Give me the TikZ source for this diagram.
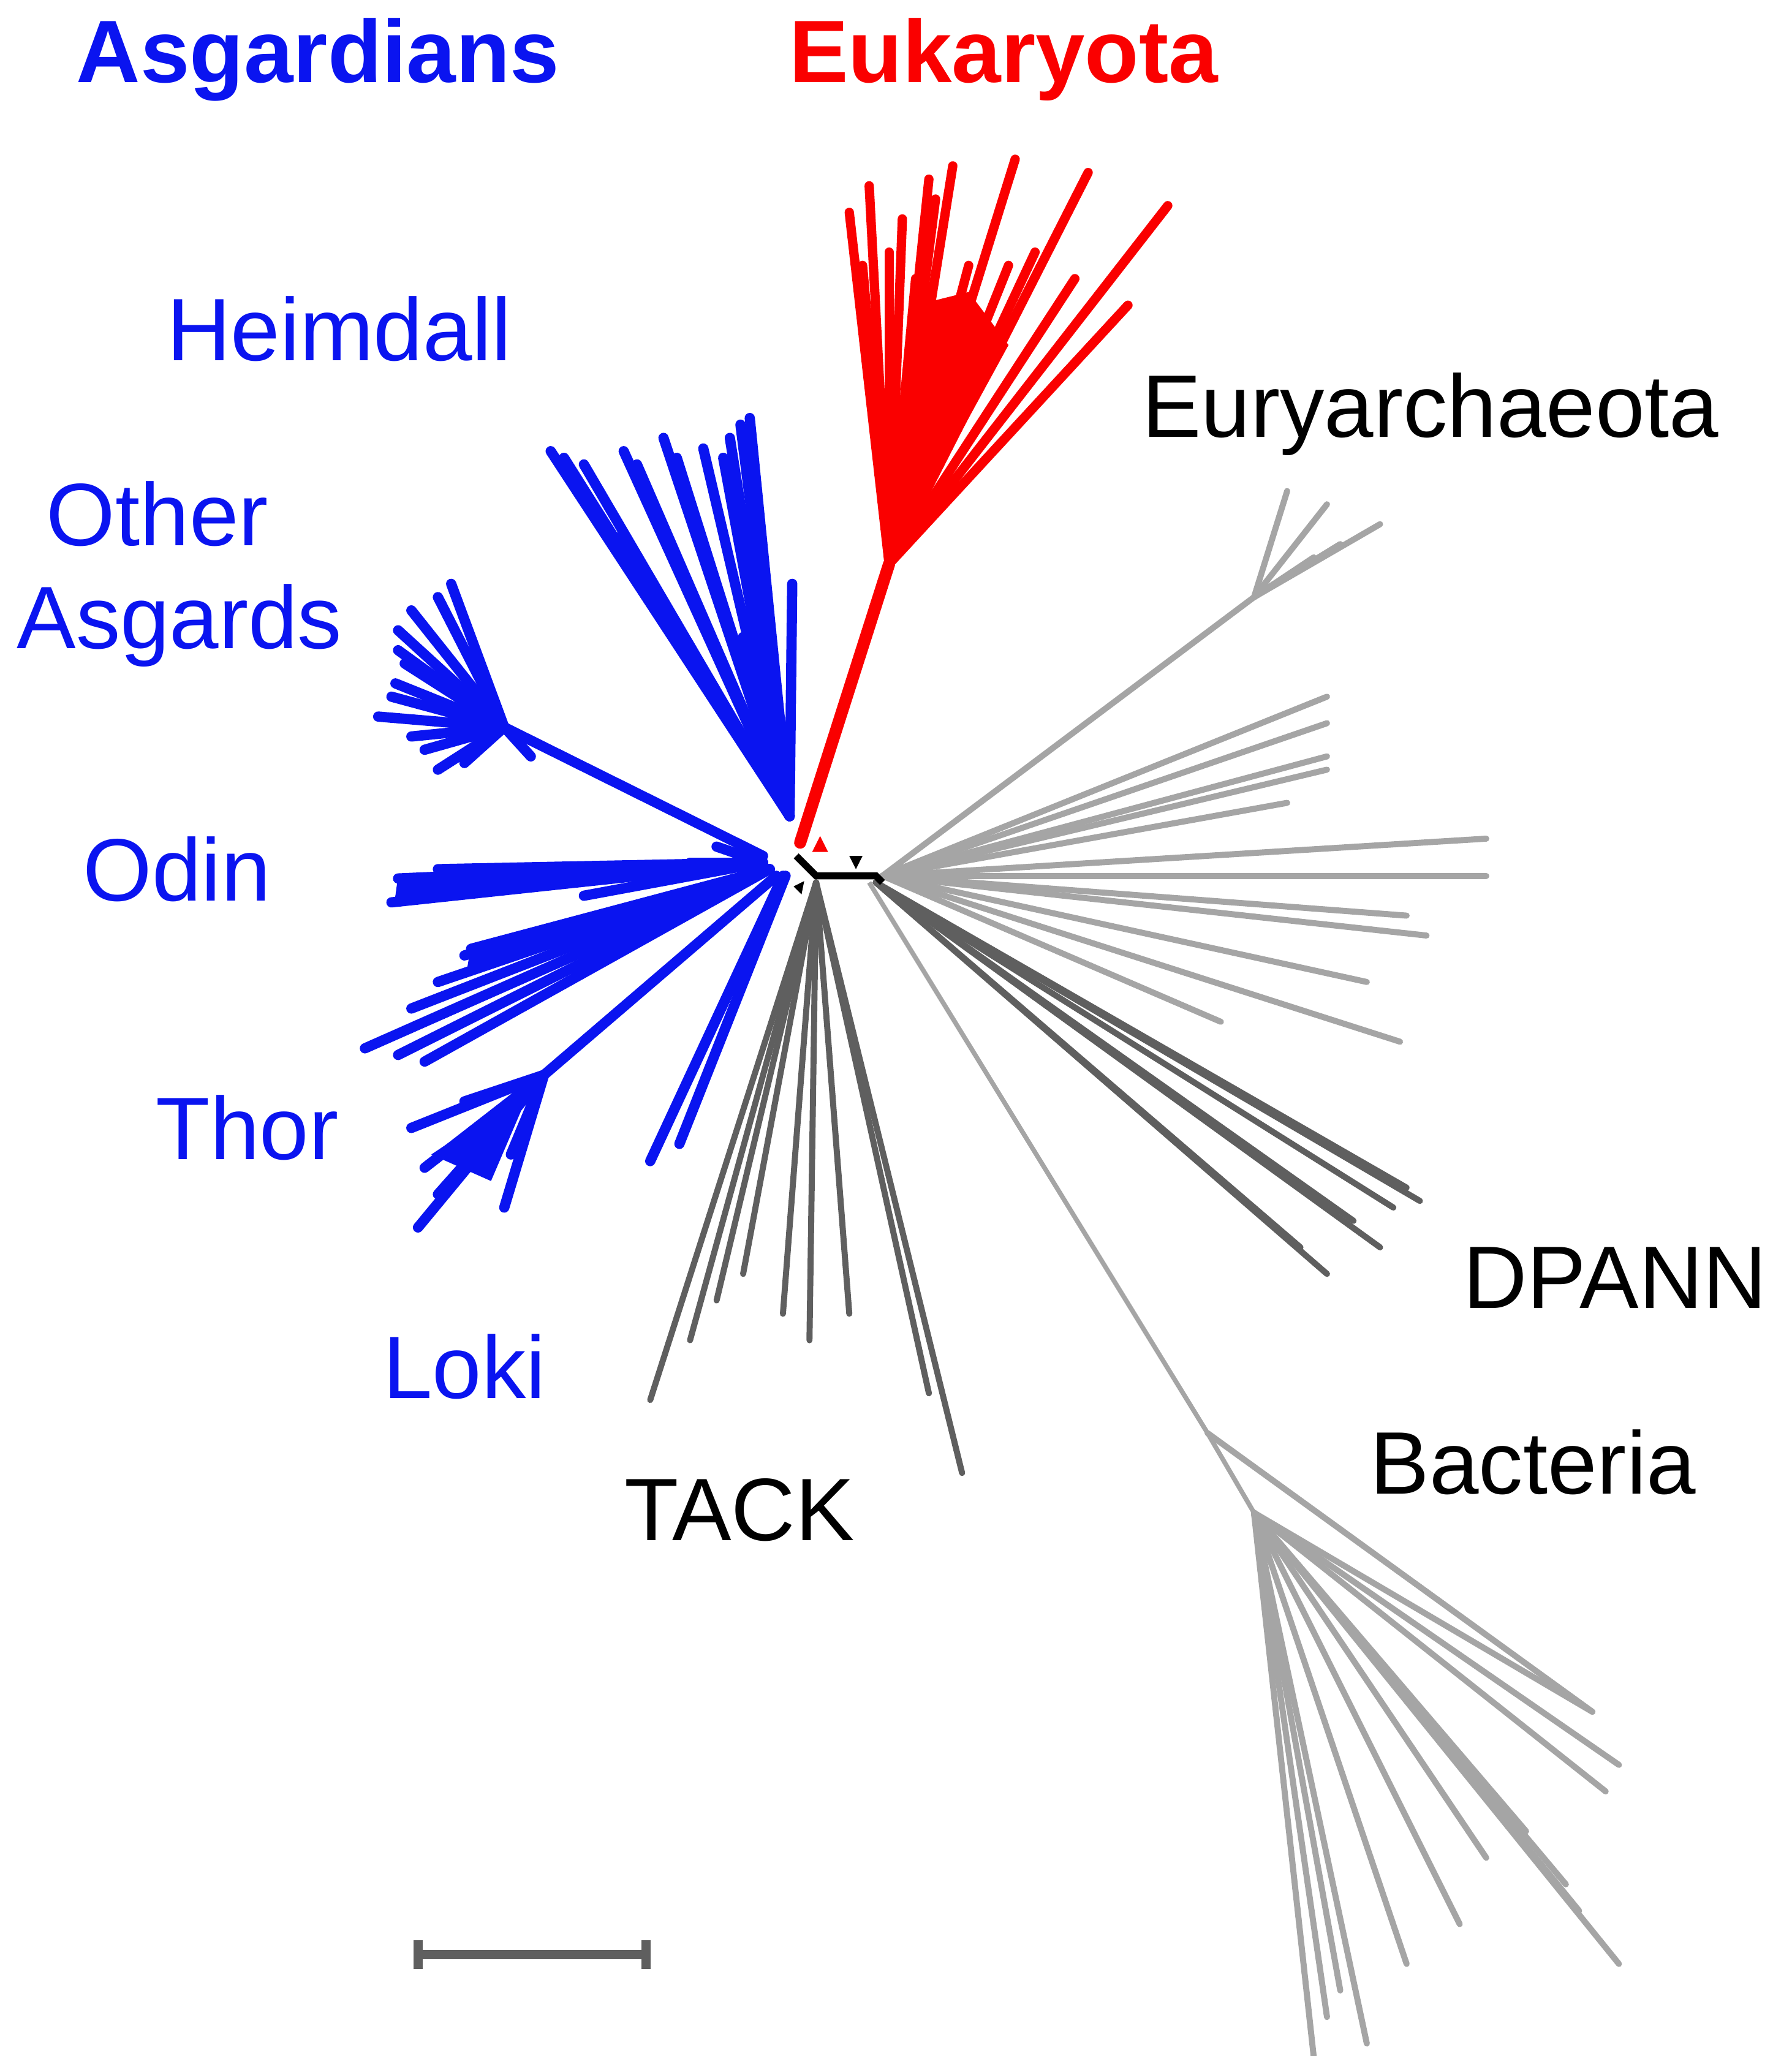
\documentclass[tikz,border=0pt]{standalone}
\usepackage{fontspec}
\setmainfont{Liberation Sans}
\definecolor{myblue}{RGB}{10,20,240}
\definecolor{myred}{RGB}{250,0,0}
\definecolor{lgray}{RGB}{165,165,165}
\definecolor{dgray}{RGB}{95,95,95}
\begin{document}
\begin{tikzpicture}[x=0.01cm,y=-0.01cm,
  bl/.style={myblue,line width=2.2pt,line cap=round},
  rd/.style={myred,line width=2pt,line cap=round},
  lg/.style={lgray,line width=1.3pt,line cap=round},
  dg/.style={dgray,line width=1.3pt,line cap=round},
  lab/.style={font=\fontsize{19}{22}\selectfont,anchor=west,inner sep=0pt},
  ttl/.style={font=\bfseries\fontsize{19}{22}\selectfont,anchor=west,inner sep=0pt}]
\useasboundingbox (0,0) rectangle (1350,1549.4);
% titles
\node[ttl,myblue] (asg) at (57,45) {Asgardians};
\node[ttl,myred] (euk) at (594,45) {Eukaryota};
\node[lab,myblue] (hei) at (125,248) {Heimdall};
\node[lab,myblue,align=left,anchor=north west] (oth) at (12,362) {\,\,Other\\Asgards};
\node[lab,myblue] (odi) at (62,655) {Odin};
\node[lab,myblue] (tho) at (117,850) {Thor};
\node[lab,myblue] (lok) at (288,1030) {Loki};
\node[lab] (tac) at (470,1138) {TACK};
\node[lab] (eur) at (860,312) {Euryarchaeota};
\node[lab] (dpa) at (1102,963) {DPANN};
\node[lab] (bac) at (1032,1102) {Bacteria};
% Heimdall
\foreach \x/\y in {415/340, 425/345, 440/350, 465/405, 470/340, 480/350, 500/330, 510/345, 530/338, 545/345, 550/330, 558/320, 565/315, 597/440, 575/510, 560/480}
  \draw[bl] (595,615) -- (\x,\y);
% Other Asgards
\draw[bl] (575,645) -- (380,548);
\foreach \x/\y in {300/475, 310/460, 330/450, 340/440, 300/490, 298/515, 285/540, 320/565, 330/580, 310/555, 350/575, 400/570, 295/525, 305/500}
  \draw[bl] (380,548) -- (\x,\y);
% Odin
\foreach \x/\y in {300/662, 295/680, 330/655, 440/675, 540/638, 520/650}
  \draw[bl] (575,650) -- (\x,\y);
\fill[myblue] (575,650) -- (300,660) -- (297,682) -- cycle;
% Thor
\foreach \x/\y in {275/790, 300/795, 330/740, 355/715, 310/760, 320/800, 350/720, 420/705}
  \draw[bl] (580,655) -- (\x,\y);
\fill[myblue] (560,668) -- (355,712) -- (352,730) -- cycle;
% Loki
\draw[bl] (585,660) -- (410,810);
\foreach \x/\y in {315/925, 330/900, 310/850, 380/910, 385/870, 350/830, 320/880}
  \draw[bl] (410,810) -- (\x,\y);
\fill[myblue] (400,820) -- (325,870) -- (370,890) -- cycle;
\draw[bl] (590,660) -- (490,875);
\draw[bl] (592,660) -- (512,862);
% Eukaryota
\draw[rd,line width=2.6pt] (603,635) -- (670,425);
\foreach \x/\y in {640/160, 655/140, 650/200, 670/190, 680/165, 690/210, 700/135, 705/150, 718/125, 730/200, 765/120, 780/190, 820/130, 810/210, 880/155, 850/230, 745/250, 760/200}
  \draw[rd] (670,425) -- (\x,\y);
\fill[myred] (670,425) -- (690,230) -- (730,220) -- (760,260) -- cycle;
% Euryarchaeota
\draw[lg] (665,660) -- (945,450);
\foreach \x/\y in {970/370, 1040/395, 1000/380, 1010/410, 990/420, 960/440}
  \draw[lg] (945,450) -- (\x,\y);
\foreach \x/\y in {1000/525, 1000/545, 1000/570, 970/605, 1120/632, 1120/660, 1075/705, 1055/785, 920/770, 1000/580, 1060/690, 1030/740}
  \draw[lg] (665,660) -- (\x,\y);
% DPANN
\foreach \x/\y in {1070/905, 1060/895, 1000/960, 1040/940, 980/940, 1020/920, 1050/910}
  \draw[dg] (660,665) -- (\x,\y);
% Bacteria
\draw[lgray,line width=1pt] (655,665) -- (910,1080) -- (945,1140);
\foreach \x/\y in {1200/1290, 1220/1330, 1210/1350, 1220/1480, 990/1550, 1030/1540, 1180/1420, 1100/1450, 1010/1500, 1150/1380, 1000/1520, 1060/1480, 1120/1400, 1190/1440}
  \draw[lg] (945,1140) -- (\x,\y);
\draw[lg] (910,1080) -- (1200,1290);
% TACK
\foreach \x/\y in {490/1055, 520/1010, 560/960, 610/1010, 640/990, 725/1110, 700/1050, 590/990, 540/980}
  \draw[dg] (615,665) -- (\x,\y);
% center
\draw[black,line width=1.5pt] (600,645) -- (615,660) -- (660,660) -- (665,665);
\fill[myred] (612,642) -- (624,642) -- (618,630) -- cycle;
\fill (640,645) -- (650,645) -- (645,655) -- cycle;
\fill (598,668) -- (606,664) -- (604,674) -- cycle;
% scale bar
\draw[dgray,line width=2pt] (315,1473) -- (487,1473);
\draw[dgray,line width=2pt] (315,1462) -- (315,1484);
\draw[dgray,line width=2pt] (487,1462) -- (487,1484);
\end{tikzpicture}
\end{document}
